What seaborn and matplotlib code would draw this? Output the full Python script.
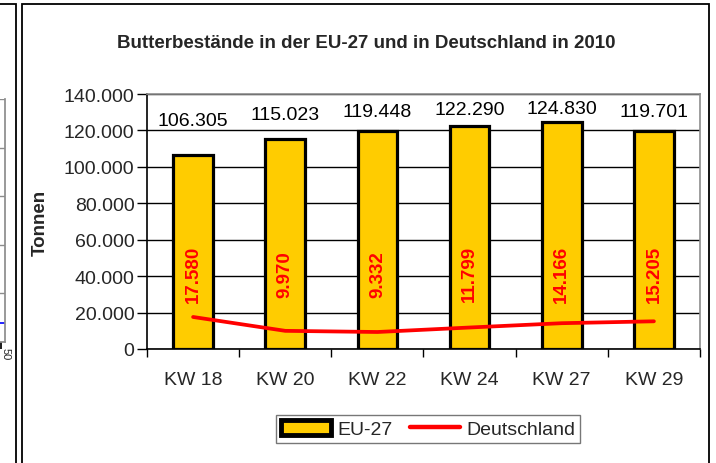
import numpy as np
import seaborn as sns
import matplotlib.pyplot as plt
from matplotlib.patches import Patch, Rectangle
from matplotlib.lines import Line2D
from matplotlib.ticker import FuncFormatter, FixedLocator

# data
weeks = ["KW 18", "KW 20", "KW 22", "KW 24", "KW 27", "KW 29"]
eu_stocks = [106305, 115023, 119448, 122290, 124830, 119701]
de_stocks = [17580, 9970, 9332, 11799, 14166, 15205]

# fragment of neighbouring chart (left edge)
left_grid = [0, 20, 40, 60, 80, 100]
left_line = [8, 8]

W, H = 716, 464
YELLOW = "#FFCC00"
RED = "#FF0000"


def de_fmt(v):
    return f"{int(round(v)):,}".replace(",", ".")


sns.set_theme(style="white")
plt.rcParams["font.family"] = ["Liberation Sans", "DejaVu Sans"]

fig = plt.figure(figsize=(W / 100, H / 100), dpi=100)
ax = fig.add_axes([147 / W, 1 - 350 / H, (700 - 147) / W, (350 - 95) / H])

sns.barplot(x=weeks, y=eu_stocks, color=YELLOW, saturation=1, width=0.43,
            edgecolor="black", linewidth=2.3, ax=ax, zorder=3)
sns.lineplot(x=weeks, y=de_stocks, color=RED, linewidth=2.7, sort=False,
             ax=ax, zorder=4)

ax.set_ylim(0, 140000)
ax.set_xlim(-0.5, len(weeks) - 0.5)
ax.set_yticks(np.arange(0, 140001, 20000))
ax.yaxis.set_major_formatter(FuncFormatter(lambda v, p: de_fmt(v)))
ax.yaxis.grid(True, color="black", linewidth=1)
ax.set_axisbelow(True)

ax.tick_params(axis="y", which="major", left=True, length=7, width=1,
               color="black", labelsize=14, pad=2)
ax.tick_params(axis="x", which="major", length=0, labelsize=14, pad=16)
ax.xaxis.set_minor_locator(FixedLocator(np.arange(len(weeks) + 1) - 0.5))
ax.tick_params(axis="x", which="minor", bottom=True, length=6, width=1,
               color="black")

for side in ["top", "right"]:
    ax.spines[side].set_color("#8c8c8c")
    ax.spines[side].set_linewidth(1.2)
for side in ["left", "bottom"]:
    ax.spines[side].set_color("black")
    ax.spines[side].set_linewidth(1.2)

ax.set_xlabel("")
ax.set_ylabel("Tonnen", fontsize=13.5, fontweight="bold")
ax.yaxis.set_label_coords(-0.178, 0.5)

# value labels
for i, (eu, de) in enumerate(zip(eu_stocks, de_stocks)):
    ax.text(i, eu * 0.35 + 88500, de_fmt(eu), ha="center", va="center",
            fontsize=14, color="black", zorder=5)
    ax.text(i, 41500, de_fmt(de), ha="center", va="center", rotation=90,
            fontsize=13.5, fontweight="bold", color=RED, zorder=5)

fig.text(366 / W, 1 - 44 / H,
         "Butterbestände in der EU-27 und in Deutschland in 2010",
         ha="center", va="center", fontsize=13.5, fontweight="bold")

handles = [Patch(facecolor=YELLOW, edgecolor="black", linewidth=3.5),
           Line2D([0], [0], color=RED, linewidth=3.2)]
leg = fig.legend(handles, ["EU-27", "Deutschland"], loc="center",
                 bbox_to_anchor=(428 / W, 1 - 430 / H), ncol=2, fontsize=14,
                 frameon=True, fancybox=False, handlelength=2.6,
                 handleheight=0.85, handletextpad=0.3, columnspacing=0.9,
                 borderpad=0.25)
leg.get_frame().set_edgecolor("#555555")
leg.get_frame().set_linewidth(1)

# chart frames
fig.add_artist(Rectangle((22 / W, -0.05), (709 - 22) / W, 1.05 - 5 / H,
                         transform=fig.transFigure, fill=False,
                         edgecolor="black", linewidth=1.3))
fig.add_artist(Rectangle((-0.05, -0.05), 0.05 + 16 / W, 1.05 - 5 / H,
                         transform=fig.transFigure, fill=False,
                         edgecolor="black", linewidth=1.3))

# fragment of the neighbouring chart
axl = fig.add_axes([-40 / W, 1 - 343 / H, 45 / W, (343 - 100) / H])
axl.set_facecolor("none")
axl.set_ylim(0, 100)
axl.set_xlim(0, 1)
axl.plot([0, 1], left_line, color="blue", linewidth=1.2)
axl.set_yticks(left_grid)
axl.yaxis.grid(True, color="#8c8c8c", linewidth=1)
axl.tick_params(left=False, labelleft=False, labelbottom=False)
axl.set_xticks([0.92])
axl.tick_params(axis="x", bottom=True, length=5, color="black")
for side in ["top", "left"]:
    axl.spines[side].set_visible(False)
axl.spines["right"].set_color("#8c8c8c")
axl.spines["bottom"].set_color("#8c8c8c")
fig.text(6 / W, 1 - 354 / H, "50", rotation=270, ha="center", va="center",
         fontsize=8)

fig.savefig("out.png", dpi=100)
